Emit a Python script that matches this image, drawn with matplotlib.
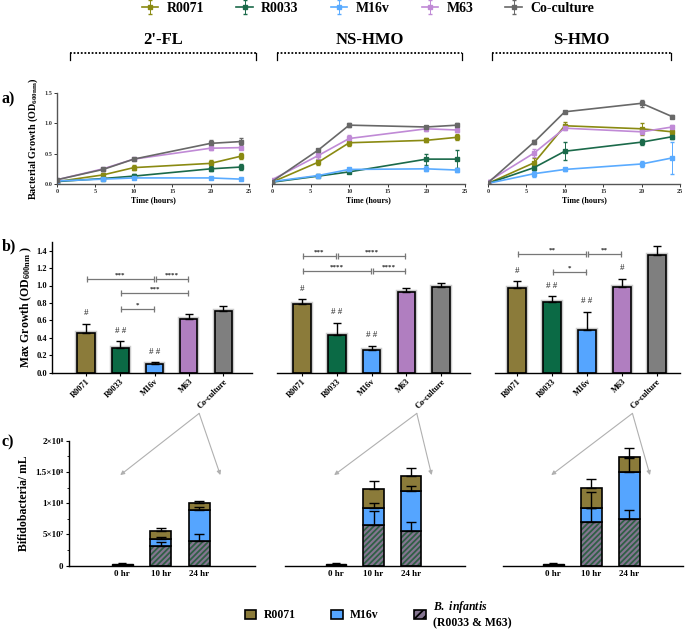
import matplotlib
matplotlib.use('Agg')
import matplotlib.pyplot as plt
import matplotlib.patheffects as pe
from matplotlib.lines import Line2D
from matplotlib.patches import Patch, ConnectionPatch

plt.rcParams['font.family'] = ['Liberation Serif', 'DejaVu Serif']
plt.rcParams['font.weight'] = 'bold'
plt.rcParams['axes.labelweight'] = 'bold'
plt.rcParams['mathtext.fontset'] = 'custom'
plt.rcParams['mathtext.rm'] = 'Liberation Serif:bold'
plt.rcParams['mathtext.bf'] = 'Liberation Serif:bold'
plt.rcParams['mathtext.it'] = 'Liberation Serif:italic:bold'
plt.rcParams['axes.linewidth'] = 1.0
plt.rcParams['hatch.linewidth'] = 1.3

W, H = 685, 629

strains = ['R0071', 'R0033', 'M16v', 'M63', 'Co-culture']
substrates = ["2'-FL", 'NS-HMO', 'S-HMO']
times = [0, 6, 10, 20, 24]

# growth curves (OD600), rows follow strains
od_2fl = [[0.04, 0.15, 0.27, 0.34, 0.46],
          [0.04, 0.09, 0.13, 0.25, 0.28],
          [0.05, 0.08, 0.10, 0.10, 0.08],
          [0.07, 0.25, 0.41, 0.59, 0.60],
          [0.07, 0.24, 0.41, 0.67, 0.70]]
od_2fl_err = [[0.01, 0.03, 0.04, 0.05, 0.05],
              [0.01, 0.02, 0.03, 0.04, 0.05],
              [0.01, 0.01, 0.01, 0.01, 0.01],
              [0.01, 0.02, 0.01, 0.03, 0.03],
              [0.01, 0.02, 0.01, 0.05, 0.05]]
od_ns = [[0.03, 0.36, 0.68, 0.72, 0.77],
         [0.03, 0.13, 0.20, 0.41, 0.41],
         [0.04, 0.14, 0.24, 0.25, 0.23],
         [0.07, 0.47, 0.75, 0.91, 0.89],
         [0.04, 0.56, 0.97, 0.94, 0.97]]
od_ns_err = [[0.01, 0.05, 0.06, 0.03, 0.05],
             [0.01, 0.02, 0.02, 0.09, 0.15],
             [0.01, 0.02, 0.03, 0.04, 0.03],
             [0.02, 0.05, 0.05, 0.03, 0.03],
             [0.01, 0.02, 0.03, 0.02, 0.03]]
od_s = [[0.01, 0.35, 0.96, 0.91, 0.86],
        [0.01, 0.27, 0.54, 0.69, 0.78],
        [0.01, 0.17, 0.24, 0.33, 0.43],
        [0.04, 0.51, 0.92, 0.86, 0.94],
        [0.02, 0.69, 1.19, 1.33, 1.11]]
od_s_err = [[0.01, 0.08, 0.06, 0.10, 0.06],
            [0.01, 0.04, 0.15, 0.05, 0.04],
            [0.01, 0.05, 0.02, 0.05, 0.27],
            [0.02, 0.07, 0.03, 0.03, 0.04],
            [0.01, 0.03, 0.02, 0.06, 0.02]]

# max growth
max_2fl = [0.45, 0.28, 0.10, 0.61, 0.71]
max_2fl_err = [0.11, 0.08, 0.02, 0.06, 0.06]
max_ns = [0.79, 0.43, 0.26, 0.92, 0.98]
max_ns_err = [0.05, 0.14, 0.05, 0.05, 0.05]
max_s = [0.97, 0.81, 0.49, 0.98, 1.35]
max_s_err = [0.08, 0.07, 0.21, 0.10, 0.10]
hash_2fl = ['#', '# #', '# #', '', '']
hash_ns = ['#', '# #', '# #', '', '']
hash_s = ['#', '# #', '# #', '#', '']
sig_2fl = [(0, 2, 1.08, '***'), (2, 3, 1.08, '****'), (1, 3, 0.91, '***'), (1, 2, 0.73, '*')]
sig_ns = [(0, 1, 1.34, '***'), (1, 3, 1.34, '****'), (0, 2, 1.17, '****'), (2, 3, 1.17, '****')]
sig_s = [(0, 2, 1.36, '**'), (2, 3, 1.36, '**'), (1, 2, 1.16, '*')]

# co-culture composition (cells/mL) at 10 h and 24 h
hr_labels = ['0 hr', '10 hr', '24 hr']
total_0hr = [3.5e6, 3.0e6, 3.0e6]
inf_2fl, inf_ns, inf_s = [3.15e7, 4.0e7], [6.5e7, 5.5e7], [7.0e7, 7.5e7]
m16_2fl, m16_ns, m16_s = [1.05e7, 4.9e7], [2.67e7, 6.4e7], [2.2e7, 7.5e7]
r71_2fl, r71_ns, r71_s = [1.35e7, 1.1e7], [3.03e7, 2.4e7], [3.2e7, 2.45e7]
inf_2fl_err, inf_ns_err, inf_s_err = [0.6e7, 1.0e7], [2.25e7, 1.5e7], [4.8e7, 1.45e7]
m16_2fl_err, m16_ns_err, m16_s_err = [0.4e7, 0.5e7], [0.93e7, 0.8e7], [0.0, 2.3e7]
r71_2fl_err, r71_ns_err, r71_s_err = [0.55e7, 0.3e7], [1.4e7, 1.4e7], [1.45e7, 1.35e7]

line_colors = ['#8a8a12', '#1b6a4a', '#5aabff', '#c08ad6', '#686868']
bar_colors = ['#8b7b3a', '#0b6a45', '#55a5ff', '#b07ec0', '#7f7f7f']
inf_face, inf_hatch = '#857591', '#2f5f45'

fig = plt.figure(figsize=(W / 100, H / 100), dpi=100)


def px_axes(x0, x1, ytop, ybot):
    return fig.add_axes([x0 / W, 1 - ybot / H, (x1 - x0) / W, (ybot - ytop) / H])


def fx(x):
    return x / W


def fy(y):
    return 1 - y / H


# ---------- row a ----------
a_pos = [(57, 249), (272, 465), (488, 680)]
a_data = [(od_2fl, od_2fl_err), (od_ns, od_ns_err), (od_s, od_s_err)]
handles = []
for k, ((x0, x1), (od, err)) in enumerate(zip(a_pos, a_data)):
    ax = px_axes(x0, x1, 93, 184)
    for i in range(5):
        h = ax.errorbar(times, od[i], yerr=err[i], color=line_colors[i], lw=1.2,
                        marker='s', ms=2.5, capsize=1.5, elinewidth=0.7, label=strains[i])
        if k == 0:
            handles.append(h)
    ax.set_xlim(0, 25)
    ax.set_ylim(0, 1.5)
    ax.set_xticks([0, 5, 10, 15, 20, 25])
    ax.set_yticks([0, 0.5, 1.0, 1.5])
    ax.set_yticklabels(['0.0', '0.5', '1.0', '1.5'])
    ax.tick_params(labelsize=4.5, length=2, width=0.7, pad=1.5, colors='#333333')
    for s in ['top', 'right']:
        ax.spines[s].set_visible(False)
    ax.spines['bottom'].set_color('#555555')
    ax.spines['left'].set_color('#555555')
    ax.set_xlabel('Time (hours)', fontsize=5.8, labelpad=2)
    ax.patch.set_alpha(0)
    if k == 0:
        ax.set_ylabel('Bacterial Growth (OD$_{\\mathrm{600nm}}$)', fontsize=7.3, labelpad=3)
    else:
        ax.spines['left'].set_visible(False)
        ax.tick_params(axis='y', left=False, labelleft=False)

# ---------- row b ----------
b_pos = [(52, 252, -0.99, 4.84), (277, 470, -0.72, 4.83), (495, 680, -0.63, 4.66)]
b_data = [(max_2fl, max_2fl_err, hash_2fl, sig_2fl),
          (max_ns, max_ns_err, hash_ns, sig_ns),
          (max_s, max_s_err, hash_s, sig_s)]
b_axes = []
halo = [pe.withStroke(linewidth=3.2, foreground='#cccccc')]
for k, ((x0, x1, lo, hi), (vals, err, hashes, sigs)) in enumerate(zip(b_pos, b_data)):
    ax = px_axes(x0, x1, 242, 372.5)
    b_axes.append(ax)
    xs = list(range(5))
    bars = ax.bar(xs, vals, width=0.5, color=bar_colors, edgecolor='black', linewidth=1.2, zorder=2)
    for b in bars:
        b.set_path_effects(halo)
    ax.errorbar(xs, vals, yerr=[[0] * 5, err], fmt='none', ecolor='black', elinewidth=1.0,
                capsize=3, capthick=1.0, zorder=3)
    for i, t in enumerate(hashes):
        if t:
            ax.text(i, vals[i] + err[i] + 0.12, t, ha='center', va='center', fontsize=6.5,
                    fontweight='normal', color='#222222')
    for i, j, y, lab in sigs:
        xa, xb = i + 0.03, j - 0.03
        ax.plot([xa, xb], [y, y], color='#777777', lw=0.9, marker='|', ms=5, mew=0.9)
        ax.text((i + j) / 2, y + 0.015, lab, ha='center', va='bottom', fontsize=5, color='#222222')
    ax.set_xlim(lo, hi)
    ax.set_ylim(0, 1.5)
    ax.set_xticks(xs)
    ax.set_xticklabels(strains, rotation=45, ha='right', rotation_mode='anchor')
    ax.set_yticks([0, 0.2, 0.4, 0.6, 0.8, 1.0, 1.2, 1.4])
    ax.set_yticklabels(['0.0', '0.2', '0.4', '0.6', '0.8', '1.0', '1.2', '1.4'])
    ax.tick_params(labelsize=6, length=2, width=0.8, pad=1.5)
    for s in ['top', 'right']:
        ax.spines[s].set_visible(False)
    ax.patch.set_alpha(0)
    if k == 0:
        ax.set_ylabel('Max Growth (OD$_{\\mathrm{600nm}}$ )', fontsize=8.5, labelpad=2)
    else:
        ax.spines['left'].set_visible(False)
        ax.tick_params(axis='y', left=False, labelleft=False)

# ---------- row c ----------
c_pos = [(69, 255, -1.38, 3.45), (285, 465, -1.36, 3.44), (503, 683, -1.32, 3.42)]
c_data = [(inf_2fl, m16_2fl, r71_2fl, inf_2fl_err, m16_2fl_err, r71_2fl_err),
          (inf_ns, m16_ns, r71_ns, inf_ns_err, m16_ns_err, r71_ns_err),
          (inf_s, m16_s, r71_s, inf_s_err, m16_s_err, r71_s_err)]
for k, ((x0, x1, lo, hi), (inf, m16, r71, inf_e, m16_e, r71_e)) in enumerate(zip(c_pos, c_data)):
    ax = px_axes(x0, x1, 440.7, 565.7)
    bw = 0.55
    ax.bar([0], [total_0hr[k]], width=bw, color='black', edgecolor='black', zorder=2)
    ax.errorbar([0], [total_0hr[k]], yerr=[[0], [total_0hr[k] * 0.3]], fmt='none',
                ecolor='black', elinewidth=1, capsize=3, zorder=3)
    xs = [1, 2]
    bot2 = [a + b for a, b in zip(inf, m16)]
    top = [a + b for a, b in zip(bot2, r71)]
    ax.bar(xs, inf, width=bw, color=inf_face, edgecolor=inf_hatch, hatch='//////', linewidth=0, zorder=2)
    ax.bar(xs, inf, width=bw, color='none', edgecolor='black', linewidth=1.2, zorder=2)
    ax.bar(xs, m16, bottom=inf, width=bw, color=bar_colors[2], edgecolor='black', linewidth=1.2, zorder=2)
    ax.bar(xs, r71, bottom=bot2, width=bw, color=bar_colors[0], edgecolor='black', linewidth=1.2, zorder=2)
    for ys, es in [(inf, inf_e), (bot2, m16_e), (top, r71_e)]:
        ax.errorbar(xs, ys, yerr=[[0, 0], es], fmt='none', ecolor='black', elinewidth=1.0,
                    capsize=3.5, capthick=1.0, zorder=4)
    ax.set_xlim(lo, hi)
    ax.set_ylim(0, 2e8)
    ax.set_xticks([0, 1, 2])
    ax.set_xticklabels(hr_labels)
    ax.tick_params(axis='x', length=0, labelsize=6.5, pad=3)
    ax.set_yticks([0, 5e7, 1e8, 1.5e8, 2e8])
    ax.set_yticks([2.5e7, 7.5e7, 1.25e8, 1.75e8], minor=True)
    ax.set_yticklabels(['0', '5×10⁷', '1×10⁸', '1.5×10⁸', '2×10⁸'])
    ax.tick_params(axis='y', labelsize=6.5, length=2.5, width=0.8, pad=1.5)
    ax.tick_params(axis='y', which='minor', length=1.5, width=0.6)
    for s in ['top', 'right']:
        ax.spines[s].set_visible(False)
    ax.patch.set_alpha(0)
    if k == 0:
        ax.set_ylabel('Bifidobacteria/ mL', fontsize=8.5, labelpad=4)
    else:
        ax.spines['left'].set_visible(False)
        ax.tick_params(axis='y', which='both', left=False, labelleft=False)
    # arrows from the co-culture bar label down to the composition bars
    for tx in [-0.05, 2.55]:
        con = ConnectionPatch(xyA=(3.3, -0.47), coordsA=b_axes[k].transData,
                              xyB=(tx, 1.45e8), coordsB=ax.transData,
                              arrowstyle='-|>', mutation_scale=6, color='#b0b0b0', lw=0.8)
        fig.add_artist(con)

# ---------- titles, brackets, panel letters ----------
br = [(70, 256), (277, 462), (492, 671)]
for (xa, xb), name in zip(br, substrates):
    fig.text(fx((xa + xb) / 2), fy(40), name, ha='center', va='center', fontsize=12)
    fig.add_artist(Line2D([fx(xa), fx(xb)], [fy(52.7), fy(52.7)], color='black', lw=1.3,
                          linestyle=(0, (1, 1))))
    for xe in (xa, xb):
        fig.add_artist(Line2D([fx(xe), fx(xe)], [fy(52.7), fy(60)], color='black', lw=0.9))

for lab, y in [('a)', 99), ('b)', 246), ('c)', 442)]:
    fig.text(fx(2), fy(y), lab, ha='left', va='center', fontsize=11.5)

fig.legend(handles=handles, labels=strains, loc='center', bbox_to_anchor=(fx(368), fy(8)), ncol=5,
           frameon=False, fontsize=10, handlelength=1.2, columnspacing=2.3, handletextpad=0.6)

leg_handles = [Patch(facecolor=bar_colors[0], edgecolor='black', lw=1.2),
               Patch(facecolor=bar_colors[2], edgecolor='black', lw=1.2),
               Patch(facecolor=inf_face, edgecolor='black', hatch='////', lw=1.2)]
leg_labels = ['R0071', 'M16v', '$\\mathit{B.\\ infantis}$\n(R0033 & M63)']
fig.legend(handles=leg_handles, labels=leg_labels, loc='center', bbox_to_anchor=(fx(378), fy(614)),
           ncol=3, frameon=False, fontsize=8.5, handlelength=1.0, handleheight=0.8,
           columnspacing=3.0, handletextpad=0.6)

fig.savefig('out.png', dpi=100)
